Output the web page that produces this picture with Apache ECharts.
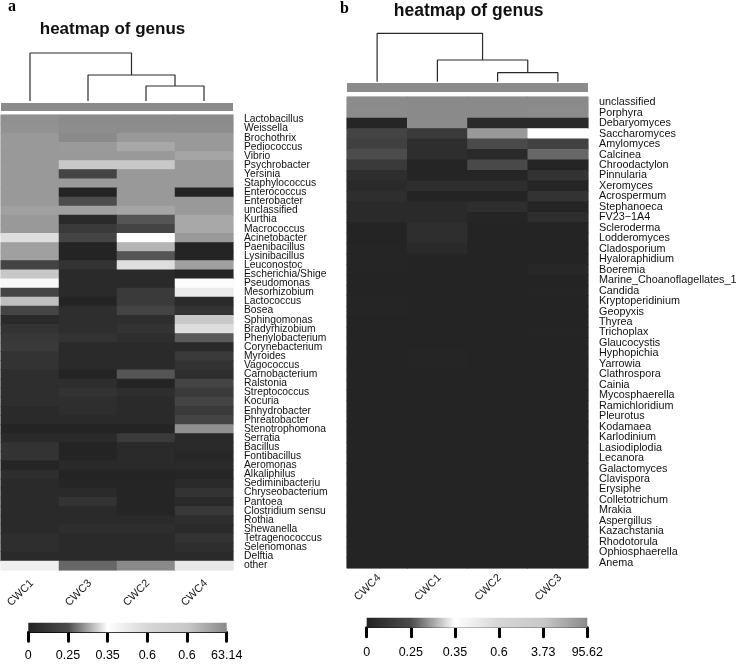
<!DOCTYPE html>
<html><head><meta charset="utf-8">
<script src="https://cdn.jsdelivr.net/npm/echarts@6/dist/echarts.min.js"></script>
<style>html,body{margin:0;padding:0;background:#fff}#c{width:738px;height:664px}</style>
</head><body><div id="c"></div>
<script>
// ---------- panel a (bacteria) ----------
const colsA = ['CWC1','CWC3','CWC2','CWC4'];
const rowsA = ['Lactobacillus','Weissella','Brochothrix','Pediococcus','Vibrio','Psychrobacter','Yersinia','Staphylococcus','Enterococcus','Enterobacter','unclassified','Kurthia','Macrococcus','Acinetobacter','Paenibacillus','Lysinibacillus','Leuconostoc','Escherichia/Shigella','Pseudomonas','Mesorhizobium','Lactococcus','Bosea','Sphingomonas','Bradyrhizobium','Phenylobacterium','Corynebacterium','Myroides','Vagococcus','Carnobacterium','Ralstonia','Streptococcus','Kocuria','Enhydrobacter','Phreatobacter','Stenotrophomonas','Serratia','Bacillus','Fontibacillus','Aeromonas','Alkaliphilus','Sediminibacterium','Chryseobacterium','Pantoea','Clostridium sensu stricto','Rothia','Shewanella','Tetragenococcus','Selenomonas','Delftia','other'];
// rows x [CWC1, CWC3, CWC2, CWC4]
const valuesA = [
 [57,62,62,62],[55,60,61,60],[48,63.14,48,48],[48,47,33,48],[48,48,48,36],
 [48,0.62,0.62,48],[48,0.2,48,48],[48,47,48,48],[48,0.01,48,0.01],[48,0.25,48,48],
 [41,41,36,47],[48,0.05,0.255,33],[48,0.14,0.2,33],[0.55,0.2,0.35,48],[41,0.01,20,0.01],
 [41,0.01,0.255,0.01],[0.2,0.1,0.55,41],[0.62,0.05,0.05,0.02],[0.39,0.05,0.05,0.37],[0.2,0.05,0.14,0.47],
 [10,0.01,0.14,0.05],[0.2,0.07,0.2,0.1],[0.05,0.07,0.07,0.62],[0.1,0.07,0.1,0.55],[0.13,0.1,0.07,0.258],
 [0.14,0.05,0.05,0.05],[0.1,0.05,0.05,0.14],[0.1,0.05,0.05,0.1],[0.07,0.01,0.255,0.07],[0.07,0.07,0.01,0.2],
 [0.07,0.1,0.07,0.14],[0.07,0.07,0.05,0.2],[0.05,0.07,0.05,0.14],[0.05,0.05,0.05,0.2],[0.01,0.01,0.01,57],
 [0.05,0.05,0.14,0.05],[0.1,0.01,0.05,0.05],[0.1,0.01,0.05,0.03],[0.02,0.05,0.05,0.05],[0.07,0.01,0.01,0.02],
 [0.05,0.02,0.02,0.05],[0.05,0.05,0.02,0.1],[0.05,0.1,0.02,0.05],[0.05,0.05,0.02,0.13],[0.05,0.05,0.05,0.07],
 [0.05,0.07,0.07,0.05],[0.07,0.05,0.05,0.1],[0.07,0.05,0.05,0.07],[0.05,0.05,0.05,0.05],[0.45,0.265,63,0.49]
];
const breaksA = [0,0.25,0.35,0.6,0.6,63.14];
const breakLabelsA = ['0','0.25','0.35','0.6','0.6','63.14'];
// merges [left, right, height]; negative = leaf (1-based), positive = earlier merge
const dendroA = [[-3,-4,15],[-2,1,26],[-1,2,48]];

// ---------- panel b ----------
const colsB = ['CWC4','CWC1','CWC2','CWC3'];
const rowsB = ['unclassified','Porphyra','Debaryomyces','Saccharomyces','Amylomyces','Calcinea','Chroodactylon','Pinnularia','Xeromyces','Acrospermum','Stephanoeca','FV23\u22121A4','Scleroderma','Lodderomyces','Cladosporium','Hyaloraphidium','Boeremia','Marine_Choanoflagellates_1','Candida','Kryptoperidinium','Geopyxis','Thyrea','Trichoplax','Glaucocystis','Hyphopichia','Yarrowia','Clathrospora','Cainia','Mycosphaerella','Ramichloridium','Pleurotus','Kodamaea','Karlodinium','Lasiodiplodia','Lecanora','Galactomyces','Clavispora','Erysiphe','Colletotrichum','Mrakia','Aspergillus','Kazachstania','Rhodotorula','Ophiosphaerella','Anema'];
// rows x [CWC4, CWC1, CWC2, CWC3]
const valuesB = [
 [94,95.62,95,95],[93,95,95,94],[0.02,94,0.05,0.05],[0.2,0.14,73,0.36],[0.18,0.07,0.24,0.19],
 [0.25,0.07,0.05,0.265],[0.14,0.02,0.23,0.02],[0.07,0.02,0.02,0.1],[0.05,0.07,0.07,0.02],[0.07,0.01,0.01,0.1],
 [0.05,0.05,0.07,0.02],[0.05,0.05,0.02,0.07],[0.01,0.07,0.01,0.01],[0.01,0.07,0.01,0.01],[0.02,0.05,0.01,0.01],
 [0.02,0.01,0.01,0.01],[0.02,0.01,0.01,0.03],[0.01,0.01,0.01,0.01],[0.01,0.01,0.01,0.02],[0.02,0.01,0.01,0.01],
 [0.02,0.01,0.01,0.01],[0.01,0.01,0.01,0.01],[0.01,0.01,0.01,0.02],[0.01,0.01,0.01,0.01],[0.01,0.02,0.01,0.01],
 [0.01,0.02,0.01,0.01],[0.01,0.01,0.01,0.01],[0.01,0.01,0.01,0.01],[0.01,0.01,0.01,0.01],[0.01,0.01,0.01,0.01],
 [0.01,0.01,0.01,0.01],[0.01,0.01,0.01,0.01],[0.01,0.01,0.01,0.01],[0.01,0.01,0.01,0.01],[0.01,0.01,0.01,0.01],
 [0.01,0.01,0.01,0.01],[0.01,0.01,0.01,0.01],[0.01,0.01,0.01,0.01],[0.01,0.01,0.01,0.01],[0.01,0.01,0.01,0.01],
 [0.01,0.01,0.01,0.01],[0.01,0.01,0.01,0.01],[0.01,0.01,0.01,0.01],[0.01,0.01,0.01,0.01],[0.01,0.01,0.01,0.01]
];
const breaksB = [0,0.25,0.35,0.6,3.73,95.62];
const breakLabelsB = ['0','0.25','0.35','0.6','3.73','95.62'];
const dendroB = [[-3,-4,9],[-2,1,21.7],[-1,2,48.4]];

const palette = ['#222222','#4c4c4c','#ffffff','#d6d6d6','#c8c8c8','#8a8a8a'];
const titleText = 'heatmap of genus';

// ---------- helpers ----------
function toPos(v, br){
  if (v <= br[0]) return 0;
  for (let i = 1; i < br.length; i++) {
    if (v <= br[i]) {
      const lo = br[i-1], hi = br[i];
      if (hi === lo) continue;
      return (i-1) + (v-lo)/(hi-lo);
    }
  }
  return br.length - 1;
}
function heatData(vals, br){
  const out = [];
  vals.forEach((row, r) => row.forEach((v, c) => out.push([c, r, v, toPos(v, br)])));
  return out;
}
function dendroSeries(merges, axisIdx){
  const pos = [], hts = [], series = [];
  merges.forEach(m => {
    const get = n => n < 0 ? [(-n-1)+0.5, 0] : [pos[n-1], hts[n-1]];
    const [xl, hl] = get(m[0]); const [xr, hr] = get(m[1]);
    pos.push((xl+xr)/2); hts.push(m[2]);
    series.push({type:'line', xAxisIndex:axisIdx, yAxisIndex:axisIdx, clip:false, silent:true,
      symbol:'none', lineStyle:{color:'#2a2a2a', width:1.2},
      data:[[xl,hl],[xl,m[2]],[xr,m[2]],[xr,hr]]});
  });
  return series;
}
const FONT = 'Liberation Sans, Arial, Helvetica, sans-serif';
const grad = new echarts.graphic.LinearGradient(0,0,1,0, palette.map((c,i)=>({offset:i/(palette.length-1), color:c})));

const G = {
  heatA:{left:1, top:115, width:232, height:455},
  heatB:{left:347, top:97, width:241, height:471},
  dendA:{left:1, top:53, width:232, height:48},
  dendB:{left:347, top:33.3, width:241, height:48.4},
  barA:{left:1, top:103, width:232, height:8},
  barB:{left:347, top:83.3, width:241, height:8.4},
  labA:{left:-8.5, top:569, width:232, height:1},
  labB:{left:337.5, top:567, width:241, height:1},
  keyA:{left:28.3, top:622.7, width:198.4, height:9.5},
  keyB:{left:366.7, top:617.7, width:220.6, height:10}
};
const grids = Object.values(G).map(g => Object.assign({containLabel:false, outerBoundsMode:'none'}, g));
const hid = {show:false};
const xAxis = [], yAxis = [];
// 0 heatA
xAxis.push({gridIndex:0, type:'category', data:colsA, show:false});
yAxis.push({gridIndex:0, type:'category', data:rowsA, inverse:true, position:'right',
  axisLine:hid, axisTick:hid, splitLine:hid,
  axisLabel:{interval:0, margin:11, fontSize:10.3, color:'#111', fontFamily:FONT, width:85, overflow:'truncate', ellipsis:''}});
// 1 heatB
xAxis.push({gridIndex:1, type:'category', data:colsB, show:false});
yAxis.push({gridIndex:1, type:'category', data:rowsB, inverse:true, position:'right',
  axisLine:hid, axisTick:hid, splitLine:hid,
  axisLabel:{interval:0, margin:11, fontSize:10.8, color:'#111', fontFamily:FONT}});
// 2,3 dendrograms
xAxis.push({gridIndex:2, type:'value', min:0, max:4, show:false});
yAxis.push({gridIndex:2, type:'value', min:0, max:48, show:false});
xAxis.push({gridIndex:3, type:'value', min:0, max:4, show:false});
yAxis.push({gridIndex:3, type:'value', min:0, max:48.4, show:false});
// 4,5 column colour bars
xAxis.push({gridIndex:4, type:'category', data:colsA, show:false});
yAxis.push({gridIndex:4, type:'value', min:0, max:1, show:false});
xAxis.push({gridIndex:5, type:'category', data:colsB, show:false});
yAxis.push({gridIndex:5, type:'value', min:0, max:1, show:false});
// 6,7 column labels
[[6, colsA, 23], [7, colsB, 19.5]].forEach(([gi, cols, mg]) => {
  xAxis.push({gridIndex:gi, type:'category', data:cols, position:'bottom', axisLine:hid, axisTick:hid, splitLine:hid,
    axisLabel:{interval:0, rotate:45, align:'center', verticalAlign:'middle', margin:mg, fontSize:11, color:'#222', fontFamily:FONT}});
  yAxis.push({gridIndex:gi, type:'value', show:false});
});
// 8,9 colour keys
[[8, breakLabelsA, 17], [9, breakLabelsB, 18]].forEach(([gi, labs, mg]) => {
  xAxis.push({gridIndex:gi, type:'value', min:0, max:5, interval:1, position:'bottom',
    axisLine:{show:true, lineStyle:{color:'#000', width:1.2}},
    axisTick:{show:true, length:9, lineStyle:{color:'#000', width:3, cap:'round'}},
    splitLine:hid,
    axisLabel:{margin:mg, fontSize:12.5, color:'#000', fontFamily:FONT, formatter:v => labs[Math.round(v)]}});
  yAxis.push({gridIndex:gi, type:'category', data:['key'], show:false});
});

// heatmaps drawn in three overlapping passes so anti-aliased cell edges do not leave light seams
const PASSES = 3;
const series = [];
const idxA = [], idxB = [];
for (let p = 0; p < PASSES; p++) {
  idxA.push(series.length);
  series.push({type:'heatmap', xAxisIndex:0, yAxisIndex:0, data:heatData(valuesA, breaksA), itemStyle:{borderWidth:0}, emphasis:{disabled:true}, silent:true});
  idxB.push(series.length);
  series.push({type:'heatmap', xAxisIndex:1, yAxisIndex:1, data:heatData(valuesB, breaksB), itemStyle:{borderWidth:0}, emphasis:{disabled:true}, silent:true});
}
series.push(...dendroSeries(dendroA, 2), ...dendroSeries(dendroB, 3));
for (let p = 0; p < PASSES; p++) {
  series.push({type:'bar', xAxisIndex:4, yAxisIndex:4, data:colsA.map(()=>1), barCategoryGap:'0%', barGap:'-100%', itemStyle:{color:'#8b8b8b'}, silent:true});
  series.push({type:'bar', xAxisIndex:5, yAxisIndex:5, data:colsB.map(()=>1), barCategoryGap:'0%', barGap:'-100%', itemStyle:{color:'#8b8b8b'}, silent:true});
}
series.push({type:'bar', xAxisIndex:8, yAxisIndex:8, data:[5], barWidth:'100%', itemStyle:{color:grad}, silent:true});
series.push({type:'bar', xAxisIndex:9, yAxisIndex:9, data:[5], barWidth:'100%', itemStyle:{color:grad}, silent:true});

const chart = echarts.init(document.getElementById('c'), null, {renderer:'canvas'});
chart.setOption({
  animation:false,
  backgroundColor:'#ffffff',
  grid:grids,
  xAxis, yAxis, series,
  visualMap:[
    {type:'continuous', show:false, seriesIndex:idxA, dimension:3, min:0, max:5, inRange:{color:palette}},
    {type:'continuous', show:false, seriesIndex:idxB, dimension:3, min:0, max:5, inRange:{color:palette}}
  ],
  graphic:[
    {type:'text', x:112.5, y:29.5, style:{text:titleText, font:'bold 17px '+FONT, fill:'#111', align:'center', verticalAlign:'middle', textAlign:'center', textVerticalAlign:'middle'}},
    {type:'text', x:468.7, y:11, style:{text:titleText, font:'bold 17.5px '+FONT, fill:'#111', align:'center', verticalAlign:'middle', textAlign:'center', textVerticalAlign:'middle'}},
    {type:'text', x:12, y:7, style:{text:'a', font:'bold 16px Liberation Serif, Times New Roman, serif', fill:'#000', align:'center', verticalAlign:'middle', textAlign:'center', textVerticalAlign:'middle'}},
    {type:'text', x:344.5, y:8.5, style:{text:'b', font:'bold 16px Liberation Serif, Times New Roman, serif', fill:'#000', align:'center', verticalAlign:'middle', textAlign:'center', textVerticalAlign:'middle'}}
  ]
});
</script>
</body></html>
